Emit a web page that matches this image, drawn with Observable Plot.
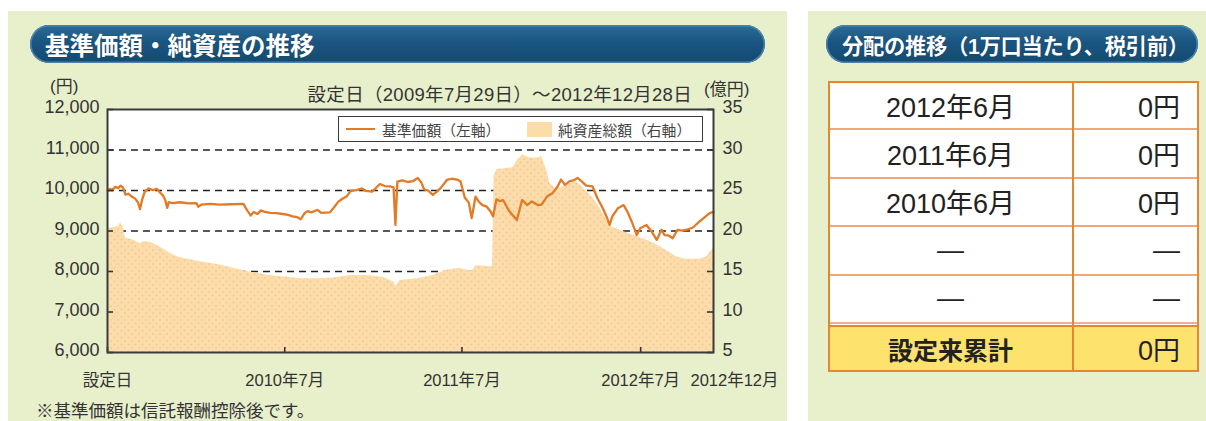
<!DOCTYPE html>
<html>
<head>
<meta charset="utf-8">
<script src="https://cdn.jsdelivr.net/npm/d3@7"></script>
<script src="https://cdn.jsdelivr.net/npm/@observablehq/plot@0.6"></script>
<style>
  html, body { margin: 0; padding: 0; background: #fff; }
  body { width: 1206px; height: 421px; position: relative; overflow: hidden;
         font-family: "Liberation Sans", "Noto Sans CJK JP", sans-serif; color: #333; }
  .abs { position: absolute; }
  .panel { position: absolute; background: #e8efcb; }
  .hdr { position: absolute; color: #fff; font-weight: 700; border-radius: 20px;
         background: linear-gradient(#2c6c98, #1a5581 45%, #134a72);
         box-shadow: inset 0 0 0 1.5px #4d84ab; display: flex; align-items: center;
         text-shadow: 0 0 1px rgba(0,0,0,.4); white-space: nowrap; }
  .cell { position: absolute; display: flex; align-items: center; color: #222; white-space: nowrap; }
</style>
</head>
<body>
<div class="panel" style="left:8px;top:11px;width:779px;height:410px"></div>
<div class="panel" style="left:808px;top:11px;width:398px;height:410px"></div>

<div class="hdr" id="hdrL" style="left:30px;top:25px;width:735px;height:38px;padding-left:15px;box-sizing:border-box;font-size:24.5px;"></div>
<div class="hdr" id="hdrR" style="left:826px;top:25px;width:372px;height:38px;padding-left:16px;box-sizing:border-box;font-size:21.3px;letter-spacing:-0.3px;"></div>

<div class="abs" id="unitL" style="left:50px;top:72px;font-size:17px;"></div>
<div class="abs" id="unitR" style="left:704px;top:75px;font-size:17px;"></div>
<div class="abs" id="period" style="right:514px;top:80px;font-size:18.5px;white-space:nowrap;letter-spacing:0.3px;"></div>

<div class="abs" id="chart" style="left:8px;top:70px"></div>

<div class="abs" id="legend" style="left:338px;top:116px;width:363px;height:24px;border:1.5px solid #3a3a3a;background:#fff;font-size:14.8px;color:#444;">
  <div class="abs" style="left:7px;top:10.5px;width:29px;height:2.6px;background:#e27a26"></div>
  <div class="abs" id="legNav" style="left:43px;top:2px;white-space:nowrap"></div>
  <div class="abs" style="left:188px;top:5px;width:25px;height:15px;background:#fcdca8"></div>
  <div class="abs" id="legAsset" style="left:219px;top:2px;white-space:nowrap"></div>
</div>

<div class="abs" id="note" style="left:36px;top:397px;font-size:17.5px;white-space:nowrap;color:#333"></div>

<div class="abs" id="table" style="left:828px;top:81px;width:371px;height:291px;"></div>

<script>
// ---------------- data ----------------
const chartTitle = "基準価額・純資産の推移";
const tableTitle = "分配の推移（1万口当たり、税引前）";
const periodText = "設定日（2009年7月29日）～2012年12月28日";
const unitLeft = "(円)";
const unitRight = "(億円)";
const navLegend = "基準価額（左軸）";
const assetLegend = "純資産総額（右軸）";
const noteText = "※基準価額は信託報酬控除後です。";

const navDates = ["2009-07-29","2009-08-03","2009-08-08","2009-08-14","2009-08-20","2009-08-25","2009-08-30","2009-09-04","2009-09-10","2009-09-16","2009-09-24","2009-09-30","2009-10-04","2009-10-08","2009-10-14","2009-10-22","2009-10-30","2009-11-08","2009-11-14","2009-11-20","2009-11-25","2009-11-29","2009-12-02","2009-12-10","2009-12-25","2010-01-12","2010-01-28","2010-02-01","2010-02-07","2010-02-25","2010-03-18","2010-04-10","2010-05-05","2010-05-12","2010-05-20","2010-05-26","2010-06-03","2010-06-10","2010-06-18","2010-06-29","2010-07-12","2010-07-25","2010-08-05","2010-08-14","2010-08-24","2010-08-31","2010-09-08","2010-09-14","2010-09-22","2010-10-04","2010-10-12","2010-10-30","2010-11-06","2010-11-16","2010-11-24","2010-12-04","2010-12-12","2010-12-24","2011-01-04","2011-01-12","2011-01-25","2011-02-03","2011-02-10","2011-02-20","2011-03-03","2011-03-10","2011-03-14","2011-03-18","2011-03-28","2011-04-08","2011-04-19","2011-04-29","2011-05-06","2011-05-12","2011-05-20","2011-05-30","2011-06-08","2011-06-16","2011-06-28","2011-07-08","2011-07-19","2011-07-26","2011-08-04","2011-08-12","2011-08-18","2011-08-26","2011-09-02","2011-09-09","2011-09-18","2011-09-26","2011-10-01","2011-10-08","2011-10-15","2011-10-22","2011-10-30","2011-11-06","2011-11-19","2011-11-30","2011-12-10","2011-12-20","2012-01-01","2012-01-09","2012-01-20","2012-02-01","2012-02-11","2012-02-18","2012-02-26","2012-03-07","2012-03-15","2012-03-23","2012-04-01","2012-04-10","2012-04-23","2012-05-03","2012-05-14","2012-05-23","2012-05-28","2012-06-03","2012-06-14","2012-06-26","2012-07-04","2012-07-14","2012-07-23","2012-07-30","2012-08-12","2012-08-23","2012-09-02","2012-09-12","2012-09-18","2012-09-26","2012-10-05","2012-10-15","2012-10-25","2012-11-05","2012-11-15","2012-11-29","2012-12-12","2012-12-20","2012-12-28"];
const navValues = [10000,10040,10010,10090,10060,10120,10070,9900,9920,9860,9800,9700,9540,9760,9980,10050,10010,10040,9950,9880,9760,9570,9710,9690,9710,9680,9690,9600,9650,9670,9650,9660,9670,9520,9380,9470,9420,9510,9470,9450,9440,9420,9400,9360,9340,9290,9440,9490,9460,9520,9450,9460,9560,9720,9790,9860,9990,10010,10050,9990,9970,10080,10160,10110,10100,10080,9150,10220,10250,10210,10230,10310,10200,10030,10000,9890,9980,10070,10260,10290,10270,10220,9820,9700,9320,9850,9720,9640,9600,9480,9360,9780,9740,9760,9580,9450,9270,9770,9640,9730,9640,9650,9850,9940,10100,10270,10140,10230,10250,10310,10220,10120,10100,9810,9560,9320,9150,9370,9560,9640,9470,9190,8900,9070,9150,8980,8780,9030,8900,8890,8820,9030,9010,9040,9080,9230,9360,9440,9470];

const assetDates = ["2009-07-29","2009-08-10","2009-08-20","2009-08-25","2009-08-30","2009-09-04","2009-09-20","2009-10-05","2009-10-11","2009-10-25","2009-11-15","2009-12-06","2009-12-26","2010-02-05","2010-03-18","2010-04-14","2010-05-13","2010-06-23","2010-08-03","2010-08-30","2010-10-10","2010-11-06","2010-12-11","2011-01-15","2011-02-15","2011-03-11","2011-03-15","2011-03-23","2011-04-29","2011-05-30","2011-06-28","2011-07-25","2011-08-18","2011-08-27","2011-09-30","2011-10-03","2011-10-09","2011-11-11","2011-11-21","2011-12-01","2011-12-16","2012-01-01","2012-01-09","2012-01-20","2012-01-26","2012-02-09","2012-03-01","2012-03-21","2012-04-07","2012-04-23","2012-05-08","2012-05-22","2012-06-01","2012-06-18","2012-07-14","2012-08-12","2012-09-02","2012-09-22","2012-10-13","2012-11-02","2012-11-29","2012-12-14","2012-12-24","2012-12-28"];
const assetValues = [20.3,20.4,20.6,21.0,20.5,19.1,18.9,18.4,18.7,18.6,18.0,17.2,16.7,16.2,15.8,15.4,15.0,14.55,14.3,14.1,14.1,14.2,14.5,14.5,14.3,13.7,13.1,13.9,14.1,14.5,15.2,15.4,15.0,15.7,15.6,26.7,27.6,27.8,28.8,29.4,29.0,29.0,29.2,27.4,25.9,25.1,25.7,26.1,25.1,24.1,22.8,21.4,20.5,20.1,19.5,18.9,18.3,17.6,16.8,16.5,16.5,16.8,17.6,17.8];

const leftTicks = [6000,7000,8000,9000,10000,11000,12000];
const gridTicks = [8000,9000,10000,11000];
const rightTicks = [5,10,15,20,25,30,35];
const xTickDates = ["2009-07-29","2010-07-29","2011-07-29","2012-07-31"];
const xTickLabels = ["設定日","2010年7月","2011年7月","2012年7月"];
const endDate = "2012-12-28";
const endLabel = "2012年12月";

const distMonths = ["2012年6月","2011年6月","2010年6月","—","—"];
const distValues = ["0円","0円","0円","—","—"];
const totalLabel = "設定来累計";
const totalValue = "0円";

// ---------------- text ----------------
document.getElementById("hdrL").textContent = chartTitle;
document.getElementById("hdrR").textContent = tableTitle;
document.getElementById("unitL").textContent = unitLeft;
document.getElementById("unitR").textContent = unitRight;
document.getElementById("period").textContent = periodText;
document.getElementById("legNav").textContent = navLegend;
document.getElementById("legAsset").textContent = assetLegend;
document.getElementById("note").textContent = noteText;

// ---------------- chart ----------------
const parse = s => new Date(s + "T00:00:00Z");
const nav = navDates.map((d, i) => ({date: parse(d), value: navValues[i]}));
const assets = assetDates.map((d, i) => ({date: parse(d), value: assetValues[i]}));
// right axis (億円) 5..35 shares the left (円) 6000..12000 range
const toLeft = a => 6000 + (a - 5) * 200;
const rightTickPos = rightTicks.map(toLeft);
const xTicks = xTickDates.map(parse);
const FONT = '"Liberation Sans", "Noto Sans CJK JP", sans-serif';

const W = 780, H = 335, mL = 99, mR = 75, mT = 39, mB = 53;
const pw = W - mL - mR, ph = H - mT - mB;

const chart = Plot.plot({
  width: W, height: H,
  marginLeft: mL, marginRight: mR, marginTop: mT, marginBottom: mB,
  style: {fontFamily: FONT, fontSize: "18px", color: "#333", background: "transparent", overflow: "visible"},
  x: {type: "utc", domain: [parse(assetDates[0]), parse(endDate)], label: null},
  y: {domain: [6000, 12000], label: null},
  marks: [
    Plot.frame({fill: "white"}),
    Plot.gridY(gridTicks, {stroke: "#222", strokeOpacity: 1, strokeWidth: 1.6, strokeDasharray: "7,5"}),
    Plot.areaY(assets, {x: "date", y1: 6000, y2: d => toLeft(d.value), fill: "url(#dots)", curve: "linear"}),
    Plot.lineY(nav, {x: "date", y: "value", stroke: "#e27a26", strokeWidth: 2.3}),
    Plot.tickY(leftTicks, {y: d => d, insetRight: pw - 6, stroke: "#333", strokeWidth: 1.6}),
    Plot.tickY(rightTickPos, {y: d => d, insetLeft: pw - 6, stroke: "#333", strokeWidth: 1.6}),
    Plot.tickX(xTicks, {x: d => d, insetTop: ph - 5, stroke: "#333", strokeWidth: 1.6}),
    Plot.frame({stroke: "#3a3a3a", strokeWidth: 2}),
    Plot.axisY(leftTicks, {anchor: "left", label: null, tickSize: 0, tickPadding: 8, dy: -2, fontSize: 18,
      tickFormat: d3.format(",")}),
    Plot.axisY(rightTickPos, {anchor: "right", label: null, tickSize: 0, tickPadding: 9, dy: -2, fontSize: 18,
      tickFormat: v => String((v - 6000) / 200 + 5)}),
    Plot.axisX(xTicks, {anchor: "bottom", label: null, tickSize: 0, tickPadding: 22, fontSize: 16.5,
      tickFormat: d => xTickLabels[xTicks.findIndex(t => +t === +d)]}),
    Plot.axisX([parse(endDate)], {anchor: "bottom", label: null, tickSize: 0, tickPadding: 22, fontSize: 16.5, dx: 21,
      tickFormat: () => endLabel})
  ]
});
chart.style.display = "block";
d3.select(chart).insert("defs", ":first-child").html(
  '<pattern id="dots" width="7" height="7" patternUnits="userSpaceOnUse">' +
  '<rect width="7" height="7" fill="#fcdca8"/>' +
  '<circle cx="1.5" cy="1.5" r="0.8" fill="#f1bd9e"/>' +
  '<circle cx="5" cy="5" r="0.8" fill="#f1bd9e"/></pattern>');
document.getElementById("chart").appendChild(chart);

// ---------------- table ----------------
const tbl = document.getElementById("table");
const colW = 245, totalW = 371, rowH = 48.4;
const ORANGE = "#e8862f";
let html = `<div class="abs" style="left:0;top:0;width:${totalW}px;height:291px;background:#fff;box-sizing:border-box;border:2px solid ${ORANGE}"></div>`;
distMonths.forEach((m, i) => {
  const top = i * rowH;
  html += `<div class="cell" style="left:0;top:${top}px;width:${colW}px;height:${rowH}px;justify-content:center;font-size:27px;">${m}</div>`;
  html += `<div class="cell" style="left:${colW}px;top:${top}px;width:${totalW - colW - 19}px;height:${rowH}px;justify-content:flex-end;font-size:27px;">${distValues[i]}</div>`;
  if (i > 0) html += `<div class="abs" style="left:2px;top:${top - 1}px;width:${totalW - 4}px;height:2px;background:#f0a878"></div>`;
});
const yTop = 5 * rowH;
html += `<div class="abs" style="left:2px;top:${yTop - 1}px;width:${totalW - 4}px;height:1.5px;background:#f0b090"></div>`;
html += `<div class="abs" style="left:0;top:${yTop + 2}px;width:${totalW}px;height:${291 - yTop - 2}px;background:#fde36e;box-sizing:border-box;border:2px solid ${ORANGE}"></div>`;
html += `<div class="cell" style="left:0;top:${yTop + 2}px;width:${colW}px;height:${291 - yTop - 2}px;justify-content:center;font-size:25px;font-weight:700;">${totalLabel}</div>`;
html += `<div class="cell" style="left:${colW}px;top:${yTop + 2}px;width:${totalW - colW - 19}px;height:${291 - yTop - 2}px;justify-content:flex-end;font-size:27px;">${totalValue}</div>`;
html += `<div class="abs" style="left:${colW - 1}px;top:0;width:2px;height:291px;background:${ORANGE}"></div>`;
tbl.innerHTML = html;
</script>
</body>
</html>
